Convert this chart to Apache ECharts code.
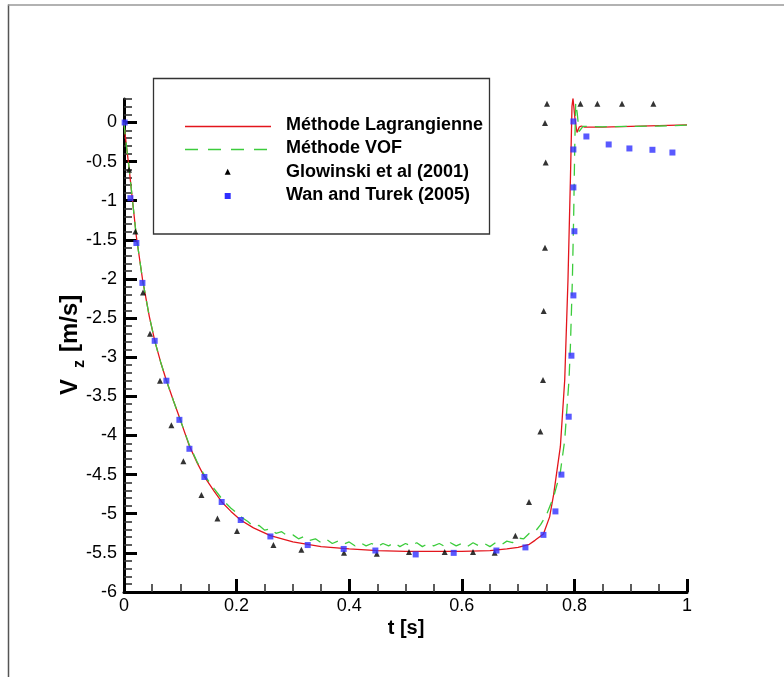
<!DOCTYPE html>
<html>
<head>
<meta charset="utf-8">
<script src="https://cdn.jsdelivr.net/npm/echarts@6/dist/echarts.min.js"></script>
<style>
html,body{margin:0;padding:0;background:#fff;}
#chart{width:784px;height:677px;}
</style>
</head>
<body>
<div id="chart"></div>
<script>
// ---- data (t [s], Vz [m/s]) ----
var lagrangian = [[0,0],[0.002,-0.15],[0.005,-0.34],[0.009,-0.58],[0.015,-0.99],[0.022,-1.46],[0.033,-2.01],[0.045,-2.48],[0.055,-2.80],[0.065,-3.06],[0.075,-3.29],[0.088,-3.56],[0.1,-3.80],[0.116,-4.13],[0.13,-4.35],[0.143,-4.53],[0.16,-4.71],[0.175,-4.86],[0.19,-4.97],[0.207,-5.08],[0.23,-5.18],[0.26,-5.28],[0.3,-5.36],[0.35,-5.42],[0.4,-5.45],[0.45,-5.47],[0.5,-5.48],[0.55,-5.48],[0.6,-5.48],[0.65,-5.47],[0.68,-5.45],[0.7,-5.43],[0.72,-5.39],[0.73,-5.34],[0.745,-5.26],[0.756,-5.04],[0.763,-4.76],[0.7751,-4.14],[0.7828,-3.29],[0.7886,-2.01],[0.7929,-0.73],[0.7957,0.205],[0.7975,0.31],[0.801,0.05],[0.8046,-0.128],[0.8085,-0.06],[0.8124,-0.045],[0.8183,-0.06],[0.85,-0.06],[0.9,-0.05],[0.95,-0.04],[1.0,-0.03]];

var vof = [[0,0],[0.002,-0.15],[0.005,-0.34],[0.009,-0.58],[0.015,-0.99],[0.022,-1.46],[0.033,-2.01],[0.045,-2.48],[0.055,-2.80],[0.065,-3.06],[0.075,-3.29],[0.088,-3.56],[0.1,-3.80],[0.116,-4.12],[0.13,-4.34],[0.143,-4.51],[0.16,-4.68],[0.175,-4.82],[0.19,-4.93],[0.2,-4.99],[0.21,-5.05],
[0.22,-5.10],[0.23,-5.16],[0.24,-5.15],[0.25,-5.21],[0.26,-5.19],[0.27,-5.25],[0.28,-5.23],[0.29,-5.28],[0.30,-5.27],[0.31,-5.32],[0.32,-5.29],[0.33,-5.34],[0.34,-5.32],[0.35,-5.37],[0.36,-5.33],[0.37,-5.38],[0.38,-5.35],[0.39,-5.39],[0.40,-5.36],[0.41,-5.41],[0.42,-5.37],[0.43,-5.41],[0.44,-5.38],[0.45,-5.42],[0.46,-5.38],[0.47,-5.41],[0.48,-5.37],[0.49,-5.42],[0.50,-5.38],[0.51,-5.41],[0.52,-5.37],[0.53,-5.42],[0.54,-5.38],[0.55,-5.41],[0.56,-5.38],[0.57,-5.42],[0.58,-5.37],[0.59,-5.41],[0.60,-5.38],[0.61,-5.42],[0.62,-5.37],[0.63,-5.41],[0.64,-5.38],[0.65,-5.42],[0.66,-5.37],[0.67,-5.40],[0.68,-5.35],[0.69,-5.37],[0.70,-5.31],[0.71,-5.32],[0.72,-5.25],[0.73,-5.23],[0.74,-5.14],
[0.75,-5.02],[0.7633,-4.78],[0.7748,-4.48],[0.7828,-4.06],[0.7904,-3.29],[0.7929,-2.86],[0.7964,-2.01],[0.7988,-1.16],[0.8006,-0.31],[0.8023,0.25],[0.805,0.12],[0.8082,-0.115],[0.8153,-0.05],[0.85,-0.055],[0.9,-0.05],[0.95,-0.045],[1.0,-0.035]];

var glowinski = [[0.0089,-0.605],[0.0202,-1.394],[0.0337,-2.174],[0.0462,-2.70],[0.0639,-3.30],[0.0842,-3.87],[0.1055,-4.33],[0.1375,-4.76],[0.166,-5.06],[0.2007,-5.22],[0.2654,-5.40],[0.3151,-5.46],[0.3908,-5.50],[0.449,-5.51],[0.5062,-5.49],[0.5696,-5.49],[0.6199,-5.49],[0.6584,-5.50],[0.6952,-5.28],[0.7194,-4.85],[0.7396,-3.95],[0.7442,-3.29],[0.7455,-2.41],[0.7478,-1.60],[0.749,-0.51],[0.7478,-0.008],[0.7513,0.24],[0.8107,0.24],[0.8408,0.24],[0.8845,0.24],[0.9403,0.24]];

var wanTurek = [[0.0012,0.0],[0.0114,-0.967],[0.022,-1.54],[0.0327,-2.05],[0.0545,-2.79],[0.0753,-3.30],[0.0984,-3.80],[0.1162,-4.17],[0.1428,-4.53],[0.1735,-4.85],[0.2073,-5.08],[0.26,-5.29],[0.3263,-5.40],[0.3902,-5.45],[0.4465,-5.47],[0.5181,-5.52],[0.5856,-5.50],[0.6615,-5.47],[0.713,-5.43],[0.745,-5.27],[0.7663,-4.97],[0.7769,-4.50],[0.7899,-3.76],[0.7947,-2.98],[0.7982,-2.21],[0.80,-1.39],[0.7982,-0.83],[0.7982,-0.345],[0.7982,0.013],[0.8213,-0.179],[0.8609,-0.281],[0.8977,-0.332],[0.9386,-0.349],[0.9741,-0.384]];

var yTickValues = [-6,-5.5,-5,-4.5,-4,-3.5,-3,-2.5,-2,-1.5,-1,-0.5,0];
var xTickValues = [0,0.2,0.4,0.6,0.8,1];
var seriesNames = ['Méthode Lagrangienne','Méthode VOF','Glowinski et al (2001)','Wan and Turek (2005)'];
var xTitle = 't [s]';
var yTitleMain = 'V', yTitleSub = 'z', yTitleUnit = '[m/s]';

// ---- chart ----
var FONT = "'Liberation Sans', Arial, Helvetica, sans-serif";
var RED = '#e3151c', GREEN = '#3ccc3c', BLUE = '#2f2fff';
var chart = echarts.init(document.getElementById('chart'), null, {renderer:'canvas'});

var option = {
  animation: false,
  backgroundColor: '#ffffff',
  grid: {left: 124, top: 99, width: 563, height: 493, containLabel: false},
  xAxis: {
    type: 'value', min: 0, max: 1, interval: 0.2,
    axisLine: {show: true, onZero: false, lineStyle: {color: '#000', width: 3}},
    axisTick: {show: true, inside: true, length: 13, lineStyle: {color: '#000', width: 3}},
    minorTick: {show: true, splitNumber: 4, length: 8, lineStyle: {color: '#333', width: 1.6}},
    splitLine: {show: false},
    axisLabel: {
      color: '#000', fontSize: 18, fontFamily: FONT, margin: 5,
      formatter: function (v) { return xTickValues.indexOf(Math.round(v*10)/10) >= 0 ? String(Math.round(v*10)/10) : ''; }
    }
  },
  yAxis: [{
    type: 'value', min: -6, max: 0.3, interval: 0.1,
    axisLine: {show: true, onZero: false, lineStyle: {color: '#000', width: 3}},
    axisTick: {show: true, inside: true, length: 8, lineStyle: {color: '#333', width: 1.6}},
    axisLabel: {show: false},
    splitLine: {show: false}
  }, {
    type: 'value', min: -6, max: 0.3, position: 'left', offset: 0,
    axisLine: {show: false},
    axisTick: {show: true, inside: true, length: 13, lineStyle: {color: '#000', width: 3}, customValues: yTickValues},
    axisLabel: {show: true, color: '#000', fontSize: 18, fontFamily: FONT, margin: 7, customValues: yTickValues},
    splitLine: {show: false}
  }],
  series: [{
    name: seriesNames[0], type: 'line', data: lagrangian, yAxisIndex: 0,
    showSymbol: false, symbol: 'none', z: 2,
    lineStyle: {color: RED, width: 1.3}
  }, {
    name: seriesNames[1], type: 'line', data: vof, yAxisIndex: 0,
    showSymbol: false, symbol: 'none', z: 3,
    lineStyle: {color: GREEN, width: 1.3, type: [12, 8]}
  }, {
    name: seriesNames[2], type: 'scatter', data: glowinski, yAxisIndex: 0,
    symbol: 'triangle', symbolSize: [6, 6], z: 4,
    itemStyle: {color: '#000'}
  }, {
    name: seriesNames[3], type: 'scatter', data: wanTurek, yAxisIndex: 0,
    symbol: 'rect', symbolSize: 6, z: 5,
    itemStyle: {color: BLUE}
  }],
  graphic: [
    // outer frame
    {type: 'line', shape: {x1: 8.5, y1: 4.5, x2: 8.5, y2: 677}, style: {stroke: '#555', lineWidth: 1.5}, silent: true},
    {type: 'line', shape: {x1: 8, y1: 5, x2: 784, y2: 5}, style: {stroke: '#999', lineWidth: 1.5}, silent: true},
    // legend box
    {type: 'rect', shape: {x: 153.5, y: 78.5, width: 336, height: 155.5}, style: {fill: '#fff', stroke: '#333', lineWidth: 1.3}, z: 10},
    {type: 'line', shape: {x1: 185, y1: 126.5, x2: 271, y2: 126.5}, style: {stroke: RED, lineWidth: 1.3}, z: 11},
    {type: 'line', shape: {x1: 185, y1: 149.5, x2: 271, y2: 149.5}, style: {stroke: GREEN, lineWidth: 1.3, lineDash: [13, 10]}, z: 11},
    {type: 'polygon', shape: {points: [[224.7, 174.7], [230.7, 174.7], [227.7, 168.7]]}, style: {fill: '#000'}, z: 11},
    {type: 'rect', shape: {x: 224.7, y: 193, width: 6, height: 6}, style: {fill: BLUE}, z: 11},
    {type: 'text', x: 286, y: 125, z: 11, style: {text: seriesNames[0], font: 'bold 18px ' + FONT, fill: '#000', textAlign: 'left', textVerticalAlign: 'middle'}},
    {type: 'text', x: 286, y: 148.5, z: 11, style: {text: seriesNames[1], font: 'bold 18px ' + FONT, fill: '#000', textAlign: 'left', textVerticalAlign: 'middle'}},
    {type: 'text', x: 286, y: 172, z: 11, style: {text: seriesNames[2], font: 'bold 18px ' + FONT, fill: '#000', textAlign: 'left', textVerticalAlign: 'middle'}},
    {type: 'text', x: 286, y: 195.5, z: 11, style: {text: seriesNames[3], font: 'bold 18px ' + FONT, fill: '#000', textAlign: 'left', textVerticalAlign: 'middle'}},
    // axis titles
    {type: 'text', x: 406, y: 628, style: {text: xTitle, font: 'bold 20px ' + FONT, fill: '#000', textAlign: 'center', textVerticalAlign: 'middle'}},
    {type: 'text', x: 70, y: 395, rotation: Math.PI/2, style: {text: yTitleMain, font: 'bold 24px ' + FONT, fill: '#000', textAlign: 'left', textVerticalAlign: 'middle'}},
    {type: 'text', x: 80, y: 368, rotation: Math.PI/2, style: {text: yTitleSub, font: 'bold 16px ' + FONT, fill: '#000', textAlign: 'left', textVerticalAlign: 'middle'}},
    {type: 'text', x: 70, y: 352, rotation: Math.PI/2, style: {text: yTitleUnit, font: 'bold 24px ' + FONT, fill: '#000', textAlign: 'left', textVerticalAlign: 'middle'}}
  ]
};
chart.setOption(option);
</script>
</body>
</html>
